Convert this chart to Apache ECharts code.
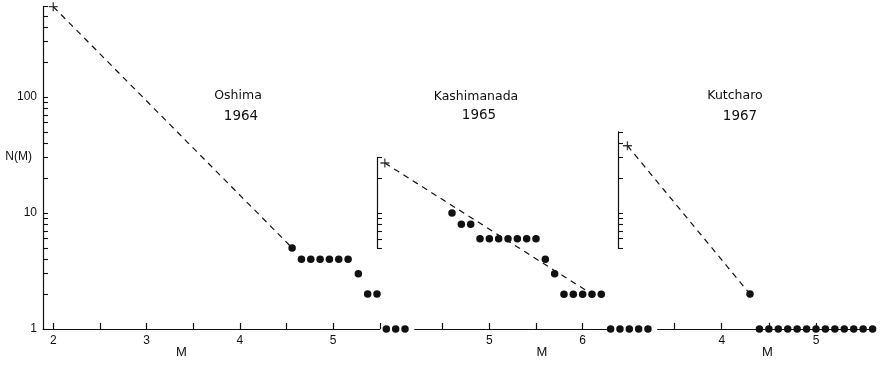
<!DOCTYPE html>
<html><head><meta charset="utf-8">
<script src="https://cdn.jsdelivr.net/npm/echarts@6/dist/echarts.min.js"></script>
<style>html,body{margin:0;padding:0;background:#fff}#c{width:881px;height:370px}</style>
</head><body><div id="c"></div>
<script>
// ---- data ----
const oshimaM = [4.56,4.66,4.76,4.86,4.96,5.06,5.16,5.27,5.37,5.47,5.57,5.67,5.77];
const oshimaN = [5,4,4,4,4,4,4,3,2,2,1,1,1];
const oshimaFitM = [2.0, 4.56];
const oshimaFitN = [600, 5];

const kashM = [4.6,4.7,4.8,4.9,5.0,5.1,5.2,5.3,5.4,5.5,5.6,5.7,5.8,5.9,6.0,6.1,6.2,6.3,6.4,6.5,6.6,6.7];
const kashN = [10,8,8,6,6,6,6,6,6,6,4,3,2,2,2,2,2,1,1,1,1,1];
const kashFitM = [3.88, 6.1];
const kashFitN = [27, 2];

const kutM = [4.3,4.4,4.5,4.6,4.7,4.8,4.9,5.0,5.1,5.2,5.3,5.4,5.5,5.6];
const kutN = [2,1,1,1,1,1,1,1,1,1,1,1,1,1];
const kutFitM = [3.0, 4.3];
const kutFitN = [38, 2];

const yTicksOshima = [1,2,3,4,5,6,7,8,9,10,20,30,40,50,60,70,80,90,100,200,300,400,500,600];
const yLabelsOshima = [1,10,100];
const yTicksKash = [5,6,7,8,9,10,20,30];
const yTicksKut = [5,6,7,8,9,10,20,30,40,50];

const xTicksOshima = [2,2.5,3,3.5,4,4.5,5,5.5];
const xLabelsOshima = [2,3,4,5];
const xTicksKash = [4.5,5,5.5,6];
const xLabelsKash = [5,6];
const xTicksKut = [3.5,4,4.5,5];
const xLabelsKut = [4,5];

const titles = [['Oshima','1964'],['Kashimanada','1965'],['Kutcharo','1967']];

// ---- style ----
const INK = '#111111';
const FONT = 'Liberation Sans';
const TFONT = 'DejaVu Sans';
const PLUS = 'path://M5,0L5,10M0,5L10,5';
const zip = (a, b) => a.map((v, i) => [v, b[i]]);

function xAx(gi, min, max, ticks, labels, offset, namePad) {
  return {
    type: 'value', gridIndex: gi, min: min, max: max, offset: offset,
    name: 'M', nameLocation: 'middle', nameGap: 17, nameMoveOverlap: false,
    nameTextStyle: {fontSize: 13, color: INK, fontFamily: FONT, padding: namePad},
    axisLine: {show: true, onZero: false, lineStyle: {color: INK, width: 1.2}},
    axisTick: {show: true, inside: true, length: 6, customValues: ticks, lineStyle: {color: INK, width: 1.2}},
    axisLabel: {show: true, customValues: labels, margin: 6, fontSize: 12, color: INK, fontFamily: FONT},
    splitLine: {show: false}
  };
}
function yAx(gi, min, max, ticks, labels, offset, extra) {
  return Object.assign({
    type: 'log', logBase: 10, gridIndex: gi, min: min, max: max, offset: offset,
    axisLine: {show: true, onZero: false, lineStyle: {color: INK, width: 1.2}},
    axisTick: {show: true, inside: true, length: 5, customValues: ticks, lineStyle: {color: INK, width: 1.1}},
    axisLabel: labels ? {show: true, customValues: labels, margin: 6, fontSize: 12, color: INK, fontFamily: FONT} : {show: false},
    splitLine: {show: false}, minorTick: {show: false}
  }, extra || {});
}
function fitSeries(gi, m, n) {
  return [
    {type: 'lines', coordinateSystem: 'cartesian2d', xAxisIndex: gi, yAxisIndex: gi,
     data: [{coords: zip(m, n)}], polyline: true, clip: false, silent: true,
     lineStyle: {color: INK, width: 1.2, type: [6, 5], opacity: 1}, z: 3},
    {type: 'scatter', xAxisIndex: gi, yAxisIndex: gi, data: [[m[0], n[0]]], symbol: PLUS, symbolSize: 9, clip: false, silent: true,
     itemStyle: {color: 'transparent', borderColor: INK, borderWidth: 1.3}, z: 4}
  ];
}
function dotSeries(gi, m, n) {
  return {type: 'scatter', xAxisIndex: gi, yAxisIndex: gi, data: zip(m, n), symbol: 'circle', symbolSize: 7.5,
          clip: false, silent: true, itemStyle: {color: INK, opacity: 1}, z: 5};
}
function titleItems(t, cx, cy) {
  return [
    {text: t[0], left: cx[0], top: cy[0], textAlign: 'center', padding: 0,
     textStyle: {fontSize: 12.5, fontWeight: 'normal', color: INK, fontFamily: TFONT}},
    {text: t[1], left: cx[1], top: cy[1], textAlign: 'center', padding: 0,
     textStyle: {fontSize: 13.5, fontWeight: 'normal', color: INK, fontFamily: TFONT}}
  ];
}

const option = {
  animation: false,
  backgroundColor: '#fff',
  title: [].concat(
    titleItems(titles[0], [238, 241], [89, 109]),
    titleItems(titles[1], [476, 479], [90, 108]),
    titleItems(titles[2], [735, 740], [89, 109])
  ),
  grid: [
    {left: 43, top: 6.7, width: 336.8, height: 322.3, outerBoundsMode: 'none', containLabel: false},
    {left: 414.7, top: 157.7, width: 192.2, height: 90.3, outerBoundsMode: 'none', containLabel: false},
    {left: 657.6, top: 131.9, width: 217.8, height: 116, outerBoundsMode: 'none', containLabel: false}
  ],
  xAxis: [
    xAx(0, 1.89, 5.5, xTicksOshima, xLabelsOshima, 0, [0, 60, 0, 0]),
    xAx(1, 4.2, 6.26, xTicksKash, xLabelsKash, 81, [0, 0, 0, 62]),
    xAx(2, 3.32, 5.63, xTicksKut, xLabelsKut, 81, [0, 0, 0, 2])
  ],
  yAxis: [
    yAx(0, 1, 600, yTicksOshima, yLabelsOshima, 0, {
      name: 'N(M)', nameLocation: 'middle', nameRotate: 0, nameGap: 11, nameMoveOverlap: false,
      nameTextStyle: {fontSize: 12, color: INK, fontFamily: FONT, verticalAlign: 'bottom', lineHeight: 22}
    }),
    yAx(1, 5, 30, yTicksKash, null, 37.7),
    yAx(2, 5, 50, yTicksKut, null, 39.6)
  ],
  series: [].concat(
    fitSeries(0, oshimaFitM, oshimaFitN), [dotSeries(0, oshimaM, oshimaN)],
    fitSeries(1, kashFitM, kashFitN), [dotSeries(1, kashM, kashN)],
    fitSeries(2, kutFitM, kutFitN), [dotSeries(2, kutM, kutN)]
  )
};
const chart = echarts.init(document.getElementById('c'), null, {renderer: 'canvas'});
chart.setOption(option);
</script></body></html>
